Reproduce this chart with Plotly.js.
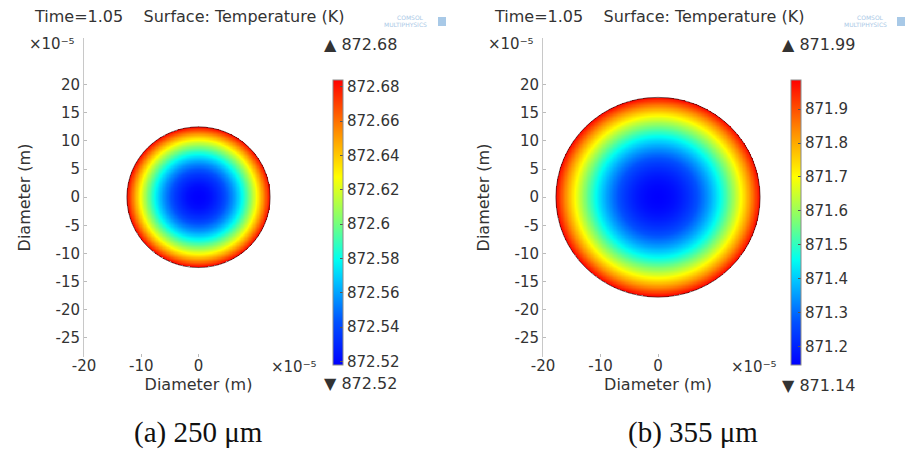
<!DOCTYPE html>
<html>
<head>
<meta charset="utf-8">
<script src="https://cdn.plot.ly/plotly-3.0.1.min.js"></script>
<style>html,body{margin:0;padding:0;background:#fff;}#chart{width:906px;height:449px;}</style>
</head>
<body>
<div id="chart"></div>
<script>
// ---- Data (lengths in units of 1e-5 m, temperatures in K) ----
// Panel (a): 250 µm droplet, radial temperature profile
const radiusA = [0, 1, 2, 3, 4, 5, 6, 7, 8, 9, 10, 11, 12, 12.5];
const tempA   = [872.518, 872.519, 872.522, 872.528, 872.535, 872.545, 872.556,
                 872.570, 872.586, 872.604, 872.624, 872.647, 872.671, 872.684];
// Panel (b): 355 µm droplet
const radiusB = [0, 1, 2, 3, 4, 5, 6, 7, 8, 9, 10, 11, 12, 13, 14, 15, 16, 17, 17.75];
const tempB   = [871.145, 871.148, 871.156, 871.169, 871.188, 871.212, 871.241,
                 871.276, 871.316, 871.361, 871.412, 871.468, 871.529, 871.596,
                 871.668, 871.746, 871.828, 871.916, 871.986];

// Colour bar ticks
const cbTickValsA = [872.52, 872.54, 872.56, 872.58, 872.60, 872.62, 872.64, 872.66, 872.68];
const cbTickTextA = ['872.52', '872.54', '872.56', '872.58', '872.6', '872.62', '872.64', '872.66', '872.68'];
const cbTickValsB = [871.2, 871.3, 871.4, 871.5, 871.6, 871.7, 871.8, 871.9];
const cbTickTextB = ['871.2', '871.3', '871.4', '871.5', '871.6', '871.7', '871.8', '871.9'];
const maxMinA = ['872.68', '872.52'];
const maxMinB = ['871.99', '871.14'];

// Axis ticks
const xTickVals = [-20, -10, 0];
const xTickText = ['-20', '-10', '0'];
const yTickVals = [-25, -20, -15, -10, -5, 0, 5, 10, 15, 20];
const yTickText = ['-25', '-20', '-15', '-10', '-5', '0', '5', '10', '15', '20'];

const captions = ['(a) 250 \u03bcm', '(b) 355 \u03bcm'];
const plotTitle = 'Time=1.05\u00a0\u00a0\u00a0 Surface: Temperature (K)';
const scaleLabel = '\u00d710\u207b\u2075';

// ---- Build the 2D field from a radial profile ----
function buildField(radius, temp, step) {
  const R = radius[radius.length - 1];
  const n = Math.round(2 * R / step) + 1;
  const coords = [];
  for (let i = 0; i < n; i++) coords.push(-R + i * step);
  const z = [];
  for (let j = 0; j < n; j++) {
    const row = [];
    for (let i = 0; i < n; i++) {
      const r = Math.hypot(coords[i], coords[j]);
      if (r > R) { row.push(null); continue; }
      let k = 0;
      while (k < radius.length - 2 && r > radius[k + 1]) k++;
      const f = (r - radius[k]) / (radius[k + 1] - radius[k]);
      row.push(temp[k] + f * (temp[k + 1] - temp[k]));
    }
    z.push(row);
  }
  return {coords, z, R};
}

const rainbow = [
  [0.00, 'rgb(0,0,255)'],
  [0.15, 'rgb(0,80,255)'],
  [0.30, 'rgb(0,200,255)'],
  [0.37, 'rgb(0,255,240)'],
  [0.50, 'rgb(120,255,120)'],
  [0.66, 'rgb(255,255,0)'],
  [0.82, 'rgb(255,140,0)'],
  [1.00, 'rgb(255,0,0)']
];

const FONT = 'DejaVu Sans, Verdana, sans-serif';
const TXT = '#333';

const fA = buildField(radiusA, tempA, 0.1);
const fB = buildField(radiusB, tempB, 0.1);

function cbar(x, vals, text) {
  return {
    x: x, xanchor: 'left', xpad: 0, ypad: 0,
    y: 1 - 222.5 / 449, yanchor: 'middle',
    len: 285 / 449, lenmode: 'fraction',
    thickness: 10, thicknessmode: 'pixels',
    outlinecolor: '#8a8a8a', outlinewidth: 1,
    tickvals: vals, ticktext: text,
    ticks: 'inside', ticklen: 3, tickcolor: '#555',
    tickfont: {family: FONT, size: 15, color: TXT}
  };
}

const traces = [
  {type: 'heatmap', x: fA.coords, y: fA.coords, z: fA.z, xaxis: 'x', yaxis: 'y',
   colorscale: rainbow, zmin: 872.518, zmax: 872.684, zsmooth: false, hoverinfo: 'skip',
   colorbar: cbar(333 / 906, cbTickValsA, cbTickTextA)},
  {type: 'heatmap', x: fB.coords, y: fB.coords, z: fB.z, xaxis: 'x2', yaxis: 'y2',
   colorscale: rainbow, zmin: 871.145, zmax: 871.986, zsmooth: false, hoverinfo: 'skip',
   colorbar: cbar(791 / 906, cbTickValsB, cbTickTextB)}
];

function xax(domain, anchor) {
  return {domain: domain, anchor: anchor, range: [-20, 20], tickvals: xTickVals, ticktext: xTickText,
    showgrid: false, zeroline: false,
    showline: false, ticks: 'inside', ticklen: 3, tickcolor: '#bbb', ticklabelstandoff: -2,
    tickfont: {family: FONT, size: 15, color: TXT},
    title: {text: 'Diameter (m)', font: {family: FONT, size: 16, color: TXT}, standoff: 0}};
}
function yax(anchor) {
  return {domain: [92 / 449, 411 / 449], range: [-28.4, 28.3], tickvals: yTickVals, ticktext: yTickText,
    anchor: anchor,
    showgrid: false, zeroline: false, showline: true, linecolor: '#c8c8c8', linewidth: 1,
    ticks: 'inside', ticklen: 3, tickcolor: '#bbb',
    tickfont: {family: FONT, size: 15, color: TXT},
    title: {text: 'Diameter (m)', font: {family: FONT, size: 16, color: TXT}, standoff: 20}};
}

function ann(text, px, py, anchor, size, extra) {
  return Object.assign({text: text, xref: 'paper', yref: 'paper', x: px / 906, y: 1 - py / 449,
    xanchor: anchor, yanchor: 'middle', showarrow: false,
    font: {family: FONT, size: size, color: TXT}}, extra || {});
}

const SERIF = {family: 'Liberation Serif, Times New Roman, serif', size: 29, color: '#111'};
const LOGO = {family: FONT, size: 6, color: '#a9c8e6'};

const annotations = [
  ann(plotTitle, 32, 17, 'left', 16),
  ann(plotTitle, 492, 17, 'left', 16),
  ann(scaleLabel, 27, 44, 'left', 15),
  ann(scaleLabel, 486, 44, 'left', 15),
  ann(scaleLabel, 269, 367, 'left', 15),
  ann(scaleLabel, 729, 367, 'left', 15),
  ann('\u25b2 ' + maxMinA[0], 322, 44, 'left', 16),
  ann('\u25bc ' + maxMinA[1], 322, 383, 'left', 16),
  ann('\u25b2 ' + maxMinB[0], 780, 44, 'left', 16),
  ann('\u25bc ' + maxMinB[1], 780, 385, 'left', 16),
  ann(captions[0], 198, 432, 'center', 29, {font: SERIF}),
  ann(captions[1], 693, 432, 'center', 29, {font: SERIF}),
  ann('COMSOL', 410, 18, 'center', 6, {font: LOGO}),
  ann('MULTIPHYSICS', 405, 24, 'center', 6, {font: LOGO}),
  ann('COMSOL', 870, 18, 'center', 6, {font: LOGO}),
  ann('MULTIPHYSICS', 865, 24, 'center', 6, {font: LOGO})
];

const shapes = [
  {type: 'circle', xref: 'x', yref: 'y', x0: -fA.R, y0: -fA.R, x1: fA.R, y1: fA.R,
   line: {color: 'rgba(70,20,20,0.75)', width: 1}},
  {type: 'circle', xref: 'x2', yref: 'y2', x0: -fB.R, y0: -fB.R, x1: fB.R, y1: fB.R,
   line: {color: 'rgba(70,20,20,0.75)', width: 1}},
  {type: 'rect', xref: 'paper', yref: 'paper', x0: 438 / 906, x1: 446 / 906, y0: 1 - 26 / 449, y1: 1 - 17 / 449,
   fillcolor: 'rgba(110,165,215,0.6)', line: {width: 0}},
  {type: 'rect', xref: 'paper', yref: 'paper', x0: 897 / 906, x1: 905 / 906, y0: 1 - 26 / 449, y1: 1 - 17 / 449,
   fillcolor: 'rgba(110,165,215,0.6)', line: {width: 0}}
];

const layout = {
  width: 906, height: 449,
  margin: {l: 0, r: 0, t: 0, b: 0},
  paper_bgcolor: '#fff', plot_bgcolor: 'rgba(0,0,0,0)',
  showlegend: false,
  xaxis: xax([84 / 906, 313 / 906], 'y'),
  yaxis: yax('x'),
  xaxis2: xax([543 / 906, 773 / 906], 'y2'),
  yaxis2: yax('x2'),
  annotations: annotations,
  shapes: shapes
};

Plotly.newPlot('chart', traces, layout, {staticPlot: true, displayModeBar: false});
</script>
</body>
</html>
